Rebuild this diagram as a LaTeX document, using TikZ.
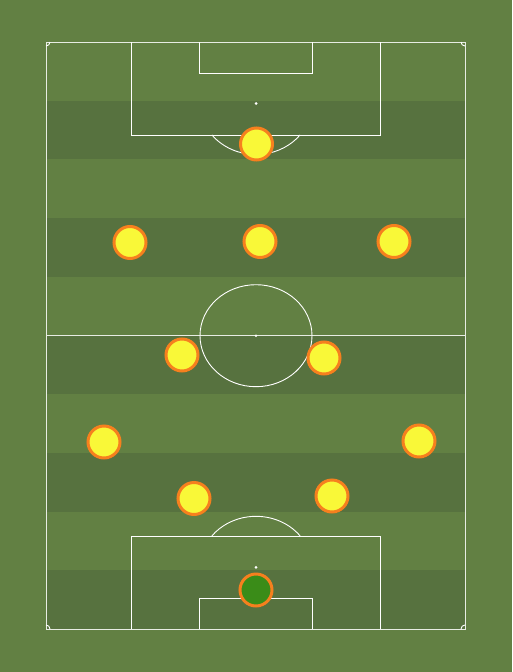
\documentclass[tikz,border=0pt]{standalone}
\usetikzlibrary{shadows}
\definecolor{grass}{RGB}{98,128,67}
\definecolor{grassdark}{RGB}{87,114,63}
\definecolor{shirt}{RGB}{249,248,56}
\definecolor{rim}{RGB}{246,128,30}
\definecolor{keepershirt}{RGB}{58,140,24}
\begin{document}
\begin{tikzpicture}[x=1pt, y=-1pt,
  pitchline/.style={draw=white, line width=0.9pt},
  spot/.style={fill=white},
  player/.style={circle, draw=rim, line width=3pt, fill=shirt, minimum size=32pt, inner sep=0pt,
    drop shadow={shadow xshift=0.6pt, shadow yshift=-1.2pt, opacity=0.3, fill=black}},
  keeper/.style={player, fill=keepershirt}]
  % Background and stripes
  \fill[grass] (0,0) rectangle (512,672);
  \foreach \i in {1,3,5,7,9}
    \fill[grassdark] (46,{42+\i*58.7}) rectangle (465,{42+(\i+1)*58.7});

  % Outer lines and halfway line
  \draw[pitchline, draw=white!85!grass] (46,42) rectangle (465,629);
  \draw[pitchline, draw=white!85!grass] (46,335.7) -- (465,335.7);

  % Centre circle and spots
  \coordinate (centre) at (256,335.7);
  \coordinate (topspot) at (256,103.5);
  \coordinate (botspot) at (256,567.3);
  \draw[pitchline] (centre) ellipse [x radius=56pt, y radius=51pt];
  \fill[spot] (centre) circle (1.3pt);
  \fill[spot] (topspot) circle (1.5pt);
  \fill[spot] (botspot) circle (1.5pt);

  % Top penalty area
  \draw[pitchline] (131,42) -- (131,135) -- (380,135) -- (380,42);
  \draw[pitchline] (199,42) -- (199,73) -- (312,73) -- (312,42);
  \draw[pitchline] (topspot) ++(218:56pt and 51pt) arc[start angle=218, end angle=322, x radius=56pt, y radius=51pt];

  % Bottom penalty area
  \draw[pitchline] (131,629) -- (131,536) -- (380,536) -- (380,629);
  \draw[pitchline] (199,629) -- (199,598) -- (312,598) -- (312,629);
  \draw[pitchline] (botspot) ++(38:56pt and 51pt) arc[start angle=38, end angle=142, x radius=56pt, y radius=51pt];

  % Corner arcs
  \draw[pitchline] (46,42) ++(0:4pt) arc[start angle=0, end angle=-90, radius=4pt];
  \draw[pitchline] (465,42) ++(180:4pt) arc[start angle=180, end angle=270, radius=4pt];
  \draw[pitchline] (46,629) ++(0:4pt) arc[start angle=0, end angle=90, radius=4pt];
  \draw[pitchline] (465,629) ++(180:4pt) arc[start angle=180, end angle=90, radius=4pt];

  % Players
  \node[keeper] (gk) at (256,590) {};
  \node[player] (lcb) at (194,498.5) {};
  \node[player] (rcb) at (332,496) {};
  \node[player] (lb) at (104,442) {};
  \node[player] (rb) at (419,441) {};
  \node[player] (lcm) at (182,355) {};
  \node[player] (rcm) at (324,358) {};
  \node[player] (lw) at (130,242.5) {};
  \node[player] (cam) at (260,241.5) {};
  \node[player] (rw) at (394,241.5) {};
  \node[player] (st) at (256.5,144) {};
\end{tikzpicture}
\end{document}
